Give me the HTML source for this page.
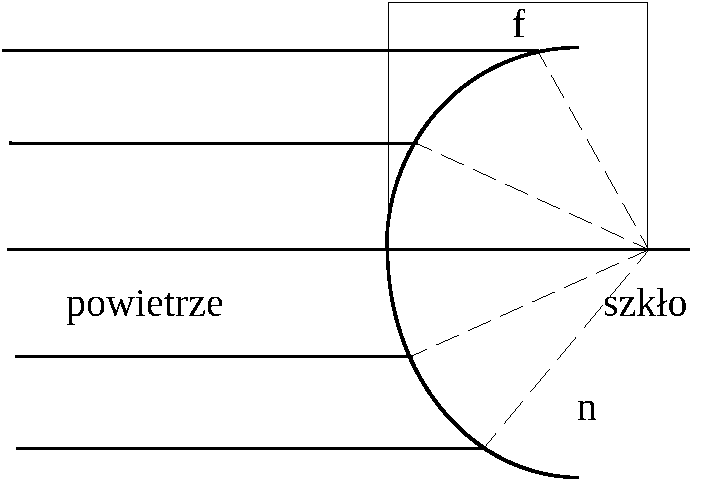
<!DOCTYPE html>
<html>
<head>
<meta charset="utf-8">
<style>
html,body{margin:0;padding:0;background:#fff;}
body{width:710px;height:480px;overflow:hidden;}
svg{display:block;}
text{font-family:"Liberation Serif", serif;font-size:40px;fill:#000;}
</style>
</head>
<body>
<svg width="710" height="480" viewBox="0 0 710 480">
<defs>
<filter id="bw" x="0" y="0" width="100%" height="100%" filterUnits="userSpaceOnUse">
<feComponentTransfer><feFuncA type="discrete" tableValues="0 1"/></feComponentTransfer>
</filter>
</defs>
<rect width="710" height="480" fill="#fff"/>
<g filter="url(#bw)">
<!-- box -->
<path d="M388.5 249.5V2.5H647.5V249.5" fill="none" stroke="#000" stroke-width="1"/>
<!-- rays -->
<g stroke="#000" stroke-width="3" fill="none">
<path d="M2 50.5H539"/>
<path d="M9 143.5H418"/>
<path d="M9 141.5H12" stroke-width="1"/>
<path d="M7 249.5H690"/>
<path d="M15 356.5H413"/>
<path d="M16 448.5H486"/>
</g>
<!-- lens curve -->
<defs>
<path id="cu" d="M582 47.5H579C470.81 47.5 386.5 135.98 386.5 249.5"/>
<path id="cl" d="M387.5 249.5C387.5 376.50 472.33 477.5 579 477.5H582"/>
</defs>
<clipPath id="cc"><rect x="0" y="0" width="579" height="480"/></clipPath>
<g stroke="#000" stroke-width="0.7" fill="none" clip-path="url(#cc)">
<use href="#cu" x="-1.35" y="-1.35"/><use href="#cu" x="-0.9" y="-0.9"/><use href="#cu" x="-0.45" y="-0.45"/><use href="#cu" x="0" y="0"/><use href="#cu" x="0.45" y="0.45"/><use href="#cu" x="0.9" y="0.9"/><use href="#cu" x="1.35" y="1.35"/>
<use href="#cl" x="-1.35" y="1.35"/><use href="#cl" x="-0.9" y="0.9"/><use href="#cl" x="-0.45" y="0.45"/><use href="#cl" x="0" y="0"/><use href="#cl" x="0.45" y="-0.45"/><use href="#cl" x="0.9" y="-0.9"/><use href="#cl" x="1.35" y="-1.35"/>
</g>
<!-- dashed lines -->
<g stroke="#000" stroke-width="1" fill="none" stroke-dasharray="24 8">
<path d="M648.4 249L538.75 52.9" pathLength="196.1" stroke-dashoffset="9.6"/>
<path d="M647.5 249L416 143.2" pathLength="231.5" stroke-dashoffset="9"/>
<path d="M647.5 250.3L412 356" pathLength="235.5" stroke-dashoffset="4"/>
<path d="M648.4 250.5L485.6 446" pathLength="195.5" stroke-dashoffset="10"/>
</g>
<!-- labels -->
<text x="512" y="37">f</text>
<text x="66" y="316">powietrze</text>
<text x="603" y="316">szkło</text>
<text x="577" y="420">n</text>
</g>
</svg>
</body>
</html>
